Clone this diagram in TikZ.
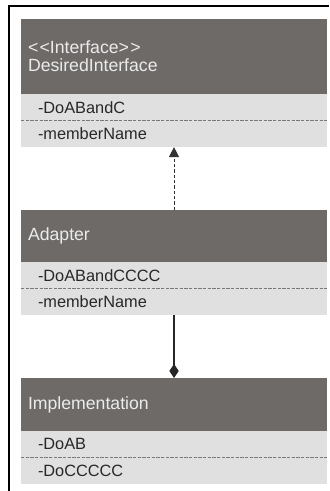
\documentclass[tikz,border=0pt]{standalone}
\usepackage{fontspec}
\setmainfont{Liberation Sans}
\usetikzlibrary{positioning,arrows.meta}
\definecolor{headgray}{RGB}{110,106,104}
\definecolor{itemgray}{RGB}{224,224,224}
\definecolor{itemtext}{RGB}{40,40,40}
\definecolor{sepgray}{RGB}{120,120,120}

\begin{document}
\begin{tikzpicture}
[
    x=0.75pt, y=-0.75pt,
    every node/.style={outer sep=0pt},
    clshead/.style={rectangle, fill=headgray, text=white!92!black, anchor=north west,
        font=\fontsize{13.25}{15.5}\selectfont,
        minimum width=229.5pt, text width=219pt, inner xsep=5.25pt, inner ysep=0pt, align=left},
    clsitem/.style={rectangle, fill=itemgray, text=itemtext, minimum width=229.5pt,
        font=\fontsize{12.25}{14}\selectfont,
        text width=204pt, inner xsep=12.75pt, inner ysep=0pt, minimum height=19.9pt, align=left},
    sepline/.style={sepgray, line width=0.6pt, dash pattern=on 2.5pt off 1pt},
]
\useasboundingbox[fill=white] (0,0) rectangle (329,491);
\draw[line width=1.5pt] (9,491) -- (9,6) -- (329,6);

\node [clshead, minimum height=56.25pt] (desired) at (21,19)
{\raisebox{-2pt}{<\kern1pt<Interface>\kern1pt>}\\DesiredInterface};
\node [clsitem, below=0pt of desired] (desiredA) {-DoABandC};
\node [clsitem, below=0pt of desiredA] (desiredB) {-memberName};

\node [clshead, minimum height=39pt] (adapter) at (21,210) {Adapter};
\node [clsitem, below=0pt of adapter] (adapterA) {-DoABandCCCC};
\node [clsitem, below=0pt of adapterA] (adapterB) {-memberName};

\node [clshead, minimum height=39.75pt] (impl) at (21,378) {Implementation};
\node [clsitem, below=0pt of impl] (implA) {-DoAB};
\node [clsitem, below=0pt of implA] (implB) {-DoCCCCC};

\draw[sepline] (desiredA.south west) -- (desiredA.south east);
\draw[sepline] (adapterA.south west) -- (adapterA.south east);
\draw[sepline] (implA.south west) -- (implA.south east);

\draw[black!80, line width=0.7pt, dash pattern=on 2.5pt off 1.5pt,
    -{Triangle[width=7.5pt, length=7.5pt]}] (adapter.north) -- (desiredB.south);
\draw[black!85, line width=0.8pt,
    -{Diamond[width=7pt, length=10.5pt]}] (adapterB.south) -- (impl.north);
\end{tikzpicture}
\end{document}
